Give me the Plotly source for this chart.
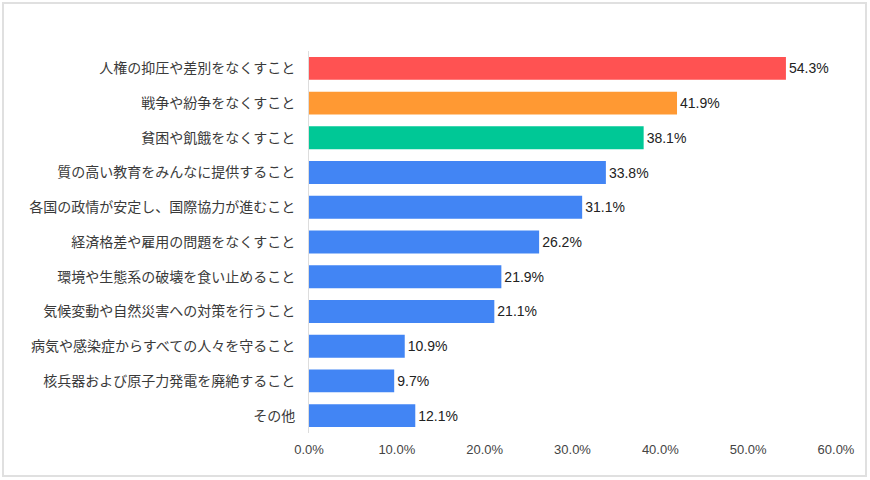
import plotly.graph_objects as go

categories = [
    "人権の抑圧や差別をなくすこと",
    "戦争や紛争をなくすこと",
    "貧困や飢餓をなくすこと",
    "質の高い教育をみんなに提供すること",
    "各国の政情が安定し、国際協力が進むこと",
    "経済格差や雇用の問題をなくすこと",
    "環境や生態系の破壊を食い止めること",
    "気候変動や自然災害への対策を行うこと",
    "病気や感染症からすべての人々を守ること",
    "核兵器および原子力発電を廃絶すること",
    "その他",
]
values = [54.3, 41.9, 38.1, 33.8, 31.1, 26.2, 21.9, 21.1, 10.9, 9.7, 12.1]
bar_colors = ["#FF5252", "#FF9933", "#00C896"] + ["#4285F4"] * 8
tick_vals = [0, 10, 20, 30, 40, 50, 60]
tick_text = ["0.0%", "10.0%", "20.0%", "30.0%", "40.0%", "50.0%", "60.0%"]

fig = go.Figure(go.Bar(
    x=values,
    y=categories,
    orientation="h",
    marker=dict(color=bar_colors, line=dict(width=0)),
    text=[f"{v:.1f}%" for v in values],
    textposition="outside",
    textfont=dict(size=14, color="#222222", family="Liberation Sans, Arial, sans-serif"),
    cliponaxis=False,
))

fig.update_layout(
    width=870, height=480,
    margin=dict(l=309, r=34, t=51, b=47),
    paper_bgcolor="white", plot_bgcolor="white",
    bargap=0.34,
    showlegend=False,
    font=dict(family="Liberation Sans, Noto Sans CJK JP, sans-serif", color="#333333"),
    xaxis=dict(
        range=[0, 60], tickvals=tick_vals, ticktext=tick_text,
        showgrid=False, zeroline=False, showline=False,
        tickfont=dict(size=13, color="#444444"), ticks="", ticklabelstandoff=7,
    ),
    yaxis=dict(
        autorange="reversed", showgrid=False, zeroline=False,
        showline=True, linecolor="#DDDDDD", linewidth=1,
        ticks="", ticklabelstandoff=10,
        tickfont=dict(size=14, color="#3A3A3A", family="Noto Sans CJK JP, sans-serif"),
    ),
    shapes=[dict(
        type="rect", xref="paper", yref="paper",
        x0=(3 - 309) / 527, x1=(866 - 309) / 527,
        y0=(480 - 476 - 47) / 382, y1=(480 - 3 - 47) / 382,
        line=dict(color="#E0E0E0", width=2), fillcolor="rgba(0,0,0,0)", layer="below",
    )],
)

fig.write_html(
    "out.html",
    config={"displayModeBar": False},
    post_script="document.body.style.margin='0';document.body.style.overflow='hidden';",
)
